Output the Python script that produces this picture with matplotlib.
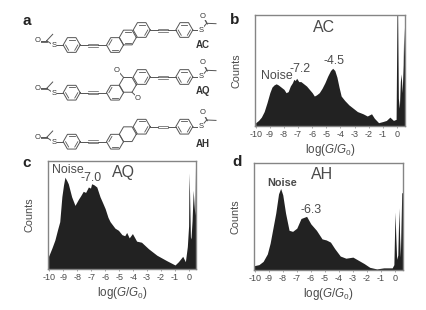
#!/usr/bin/env python3
"""Conductance histograms for AC, AQ and AH with their molecular structures."""

import numpy as np
import matplotlib
matplotlib.use("Agg")
import matplotlib.pyplot as plt

plt.rcParams['font.family'] = ['Liberation Sans', 'DejaVu Sans']
plt.rcParams['mathtext.fontset'] = 'custom'
plt.rcParams['mathtext.rm'] = 'Liberation Sans'
plt.rcParams['mathtext.it'] = 'Liberation Sans:italic'
plt.rcParams['axes.unicode_minus'] = False

W, H = 427, 310
FILL = '#222222'
TEXT = '#4a4a4a'
FRAME = '#858585'
BOND = '#555555'

# histogram outlines, counts as % of panel height
ac_x = [-10.0, -9.8, -9.6, -9.4, -9.2, -9.0, -8.85, -8.7, -8.55, -8.4, -8.2, -8.0, -7.85, -7.7,
        -7.55, -7.4, -7.3, -7.2, -7.1, -6.95, -6.8, -6.6, -6.4, -6.2, -6.0, -5.85, -5.7, -5.5,
        -5.3, -5.1, -4.9, -4.7, -4.55, -4.4, -4.25, -4.1, -3.95, -3.7, -3.4, -3.1, -2.8, -2.4,
        -2.1, -1.8, -1.6, -1.3, -1.0, -0.75, -0.5, -0.25, -0.06, 0.0, 0.05, 0.1, 0.17, 0.24,
        0.3, 0.37, 0.44, 0.48, 0.52, 0.57]
ac_y = [3, 5, 8, 13, 21, 30, 35, 37, 38, 37, 35, 33, 30, 31,
        36, 39, 42, 41, 43, 40, 40, 38, 36, 33, 30, 27, 28, 30,
        34, 39, 45, 50, 52, 50, 44, 35, 27, 23, 19, 16, 13, 11,
        9, 11, 7, 3, 4, 5, 8, 5, 6, 100, 100, 25, 16, 40,
        47, 30, 55, 89, 70, 45]

aq_x = [-10.05, -9.8, -9.6, -9.4, -9.25, -9.1, -8.98, -8.88, -8.75, -8.64, -8.4, -8.16, -7.9,
        -7.75, -7.57, -7.4, -7.2, -7.05, -6.97, -6.8, -6.6, -6.37, -6.2, -6.0, -5.8, -5.65,
        -5.3, -5.05, -4.8, -4.6, -4.46, -4.28, -4.05, -3.75, -3.4, -2.9, -2.3, -1.6, -1.0,
        -0.76, -0.45, -0.26, -0.12, -0.03, 0.0, 0.04, 0.1, 0.14, 0.22, 0.3, 0.36, 0.42, 0.47, 0.5]
aq_y = [12, 20, 27, 37, 44, 67, 78, 85, 82, 79, 67, 59, 65,
        68, 72, 71, 76, 75, 79, 78, 76, 67, 62, 56, 48, 44,
        38, 36, 32, 31, 34, 29, 33, 26, 25, 19, 13, 8, 4,
        7, 12, 7, 21, 40, 89, 70, 30, 28, 45, 73, 60, 50, 100, 100]

ah_x = [-10.05, -9.7, -9.4, -9.1, -8.9, -8.7, -8.5, -8.3, -8.15, -8.0, -7.8, -7.55, -7.3, -7.0,
        -6.7, -6.5, -6.3, -6.0, -5.6, -5.2, -4.9, -4.6, -4.3, -3.9, -3.5, -3.0, -2.6, -2.2,
        -1.8, -1.3, -0.8, -0.2, -0.08, 0.0, 0.06, 0.12, 0.2, 0.28, 0.33, 0.38, 0.48, 0.57]
ah_y = [4, 5, 8, 15, 25, 39, 53, 71, 76, 70, 53, 37, 36, 39,
        48, 49, 50, 43, 37, 29, 28, 26, 20, 13, 11, 12, 9, 6,
        2.5, 1, 2, 2, 5, 54, 30, 10, 14, 58, 30, 12, 72, 72]

tick_vals = list(range(-10, 1))

# ring centres for the three molecules: left ring y, right ring y, label y
mol_names = ['AC', 'AQ', 'AH']
mol_left_y = [45, 92.7, 141.7]
mol_right_y = [30, 77, 126.7]
mol_label_y = [44.5, 91, 144]
ring_r = 8.5
ring_xs = [71.7, 115, 127.8, 141.7, 184.3]


def px_axes(fig, left, top, right, bottom):
    return fig.add_axes([left / W, 1 - bottom / H, (right - left) / W, (bottom - top) / H])


def draw_hist(ax, x, y, xlim, name, labels, name_pos):
    ax.fill_between(x, 0, y, color=FILL, lw=0)
    ax.set_xlim(*xlim)
    ax.set_ylim(0, 100)
    ax.set_yticks([])
    ax.set_xticks(tick_vals)
    ax.tick_params(axis='x', length=1.5, width=0.5, color=FRAME, labelsize=6.5,
                   labelcolor=TEXT, pad=1.5)
    for spine in ax.spines.values():
        spine.set_color(FRAME)
        spine.set_linewidth(1.0)
    ax.set_xlabel(r'log($\mathit{G}$/$\mathit{G}_{\mathrm{0}}$)', fontsize=8.4, color=TEXT, labelpad=2)
    ax.set_ylabel('Counts', fontsize=7.8, color=TEXT, labelpad=10)
    ax.text(name_pos[0], name_pos[1], name, fontsize=11.5, color=TEXT, ha='center', va='center')
    for lx, ly, txt, bold in labels:
        ax.text(lx, ly, txt, fontsize=7.8 if bold else 8.9, color=TEXT, ha='center', va='center',
                fontweight='bold' if bold else 'normal')


def hexagon(ov, cx, cy, inner=None):
    ang = np.radians(np.arange(0, 361, 60))
    ov.plot(cx + ring_r * np.cos(ang), cy + ring_r * np.sin(ang), color=BOND, lw=0.7)
    # double bonds drawn inside the ring
    for k in (inner or []):
        a = ang[k:k + 2]
        ov.plot(cx + 0.72 * ring_r * np.cos(a), cy + 0.72 * ring_r * np.sin(a), color=BOND, lw=0.6)


def alkyne(ov, x0, x1, y, n=3):
    mid = (x0 + x1) / 2
    ov.plot([x0, mid - 5], [y, y], color=BOND, lw=0.7)
    ov.plot([mid + 5, x1], [y, y], color=BOND, lw=0.7)
    offs = [-1.5, 0, 1.5] if n == 3 else [-1.0, 1.0]
    for o in offs:
        ov.plot([mid - 5, mid + 5], [y + o, y + o], color=BOND, lw=0.5)


def atom(ov, x, y, s):
    ov.text(x, y, s, fontsize=5.5, color='#333333', ha='center', va='center', zorder=5,
            bbox=dict(fc='white', ec='none', pad=0.2))


def thioacetate(ov, sx, sy, side):
    if side > 0:
        c, o, me = (sx + 5.7, sy - 6.7), (sx + 2, sy - 14), (sx + 15, sy - 6.3)
    else:
        c, o, me = (sx - 7.3, sy - 5), (sx - 16.3, sy - 5), (sx - 1.3, sy - 11.4)
    ov.plot([sx, c[0]], [sy, c[1]], color=BOND, lw=0.7)
    ov.plot([c[0], me[0]], [c[1], me[1]], color=BOND, lw=0.7)
    ov.plot([c[0], o[0]], [c[1], o[1]], color=BOND, lw=0.7)
    ov.plot([c[0] + 0.8, o[0] + 0.8], [c[1] + 0.8, o[1] + 0.8], color=BOND, lw=0.6)
    atom(ov, sx, sy, 'S')
    atom(ov, o[0], o[1], 'O')


def draw_molecule(ov, kind, yl, yr, label_y):
    x1, x2, x3, x4, x5 = ring_xs
    ym = (yl + yr) / 2
    hexagon(ov, x1, yl, [0, 2, 4])
    hexagon(ov, x2, yl, [1, 3])
    hexagon(ov, x4, yr, [0, 4])
    hexagon(ov, x5, yr, [0, 2, 4])
    if kind == 'AC':
        hexagon(ov, x3, ym, [1, 4])
    else:
        hexagon(ov, x3, ym)
    if kind == 'AQ':
        # carbonyl oxygens on the central ring
        ov.plot([x3 - 4.2, x3 - 10.5], [ym - 7.4, ym - 14.7], color=BOND, lw=0.7)
        ov.plot([x3 + 4.2, x3 + 10.5], [ym + 7.4, ym + 13.3], color=BOND, lw=0.7)
        atom(ov, x3 - 10.7, ym - 14.7, 'O')
        atom(ov, x3 + 10.3, ym + 13.3, 'O')
    alkyne(ov, x1 + ring_r, x2 - ring_r, yl)
    alkyne(ov, x4 + ring_r, x5 - ring_r, yr, n=2 if kind == 'AH' else 3)
    ov.plot([x1 - ring_r, 54], [yl, yl], color=BOND, lw=0.7)
    ov.plot([x5 + ring_r, 201], [yr, yr], color=BOND, lw=0.7)
    thioacetate(ov, 54, yl + 0.7, -1)
    thioacetate(ov, 201, yr, 1)
    ov.text(203, label_y, kind, fontsize=7, fontweight='bold', color='#333333',
            ha='center', va='center')


fig = plt.figure(figsize=(W / 100, H / 100), dpi=100)

ax_b = px_axes(fig, 255, 15, 405, 126)
draw_hist(ax_b, ac_x, ac_y, (-10.05, 0.57), 'AC',
          [(-8.5, 45, 'Noise', False), (-6.85, 51, '-7.2', False), (-4.44, 58.5, '-4.5', False)],
          (-5.15, 88.5))

ax_c = px_axes(fig, 48.3, 161, 196, 269.3)
draw_hist(ax_c, aq_x, aq_y, (-10.07, 0.5), 'AQ',
          [(-8.7, 91.5, 'Noise', False), (-7.04, 84, '-7.0', False)], (-4.7, 89))

ax_d = px_axes(fig, 254, 162.7, 403, 270)
draw_hist(ax_d, ah_x, ah_y, (-10.05, 0.57), 'AH',
          [(-8.05, 81, 'Noise', True), (-5.95, 56, '-6.3', False)], (-5.17, 89))

# full figure overlay in pixels for the structures and panel letters
ov = fig.add_axes([0, 0, 1, 1])
ov.set_xlim(0, W)
ov.set_ylim(H, 0)
ov.axis('off')
ov.patch.set_alpha(0)

for name, yl, yr, ly in zip(mol_names, mol_left_y, mol_right_y, mol_label_y):
    draw_molecule(ov, name, yl, yr, ly)

for letter, lx, ly in [('a', 27, 21), ('b', 235, 20), ('c', 27, 163), ('d', 237, 162)]:
    ov.text(lx, ly, letter, fontsize=11, fontweight='bold', color='#222222', ha='center', va='center')

fig.savefig('out.png', dpi=100)
